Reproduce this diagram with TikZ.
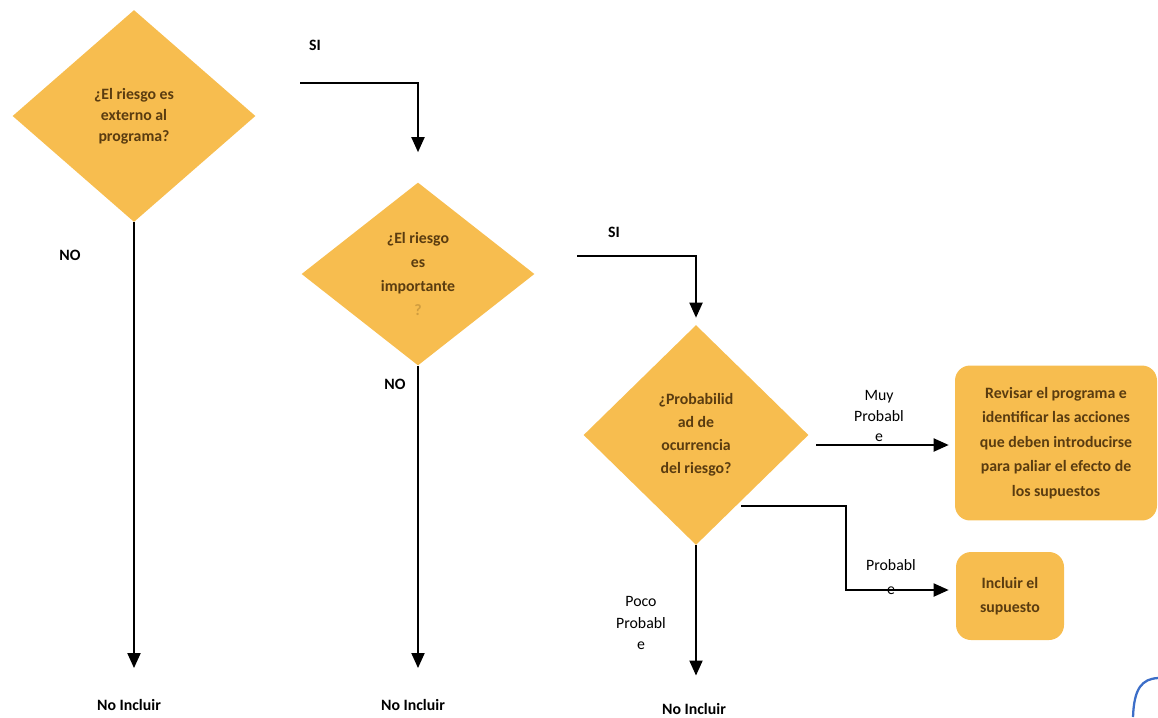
\documentclass[tikz,border=0pt]{standalone}
\usepackage{fontspec}
\setmainfont{Carlito}
\usepackage{tikz}
\usetikzlibrary{arrows.meta,calc,positioning,shapes.geometric}

\definecolor{riskfill}{HTML}{F7BD4F}
\definecolor{risktext}{HTML}{5A3C10}
\definecolor{scanblue}{HTML}{3C6EC8}

\begin{document}
\begin{tikzpicture}[
    x=0.02cm, y=-0.02cm,
    font=\fontsize{9}{12}\selectfont,
    dec/.style={diamond, fill=riskfill, text=risktext, inner sep=0pt, align=center,
      font=\bfseries\fontsize{9}{12.5}\selectfont},
    act/.style={rounded corners=0.3cm, fill=riskfill, text=risktext, inner sep=0pt, align=center,
      font=\bfseries\fontsize{9}{14}\selectfont},
    lbl/.style={inner sep=0pt, align=center, font=\fontsize{9}{12}\selectfont},
    fin/.style={inner sep=0pt, font=\bfseries\fontsize{9}{12}\selectfont},
    arr/.style={-{Triangle[length=3mm,width=2.6mm]}, line width=1.1pt},
  ]
    \useasboundingbox (0,0) rectangle (1158,717);

    % Decisions
    \node[dec, minimum width=4.86cm, minimum height=4.24cm,
      font=\bfseries\fontsize{9}{12}\selectfont] (ext) at (134,116)
      {¿El riesgo es\\externo al\\programa?};
    \node[dec, minimum width=4.66cm, minimum height=3.66cm,
      font=\bfseries\fontsize{9}{13.5}\selectfont] (imp) at (418,274)
      {¿El riesgo\\es\\importante\\{\color{risktext!25!riskfill}?}};
    \node[dec, minimum width=4.5cm, minimum height=4.4cm,
      font=\bfseries\fontsize{9}{13}\selectfont] (prob) at (696,435)
      {¿Probabilid\\ad de\\ocurrencia\\del riesgo?};

    % Actions
    \node[act, minimum width=4.04cm, minimum height=3.1cm] (rev) at (1056,443)
      {Revisar el programa e\\identificar las acciones\\que deben introducirse\\para paliar el efecto de\\los supuestos};
    \node[act, minimum width=2.16cm, minimum height=1.76cm] (inc) at (1010,596)
      {Incluir el\\supuesto};

    % Outcomes
    \node[fin] (no1) at (129,705) {No Incluir};
    \node[fin] (no2) at (413,705) {No Incluir};
    \node[fin] (no3) at (694,709) {No Incluir};

    % Branch labels
    \node[lbl, font=\bfseries\fontsize{9}{12}\selectfont] (si1) at (315,45) {SI};
    \node[lbl, font=\bfseries\fontsize{9}{12}\selectfont] (noa) at (70,255) {NO};
    \node[lbl, font=\bfseries\fontsize{9}{12}\selectfont] (si2) at (614,232) {SI};
    \node[lbl, font=\bfseries\fontsize{9}{12}\selectfont] (nob) at (395,384) {NO};
    \node[lbl, font=\fontsize{9}{11.5}\selectfont] (muy) at (879,416) {Muy\\Probabl\\e};
    \node[lbl, font=\fontsize{9}{14}\selectfont] (pro) at (891,577) {Probabl\\e};
    \node[lbl] (poco) at (641,623) {Poco\\Probabl\\e};

    % Loose ends
    \coordinate (s1) at (300,83);
    \coordinate (s2) at (577,256);
    \coordinate (mp) at (816,445);
    \coordinate (pr) at (741,506);

    % Arrows
    \draw[arr, shorten >=0.6cm] (s1) -| (imp.north);
    \draw[arr, shorten >=0.14cm] (s2) -| (prob.north);
    \draw[arr, shorten >=0.62cm] (ext.south) -- (ext.south |- no1.north);
    \draw[arr, shorten >=0.62cm] (imp.south) -- (imp.south |- no2.north);
    \draw[arr, shorten >=0.55cm] (prob.south) -- (prob.south |- no3.north);
    \draw[arr, shorten >=0.12cm] (mp) -- (mp -| rev.west);
    \draw[arr, shorten >=0.14cm] (pr) -- ++(105,0) |- ([yshift=0.12cm]inc.west);

    % Scan mark
    \draw[scanblue, line width=1.3pt] (1133,717) .. controls (1134,688) and (1142,679) .. (1158,678);
\end{tikzpicture}
\end{document}
